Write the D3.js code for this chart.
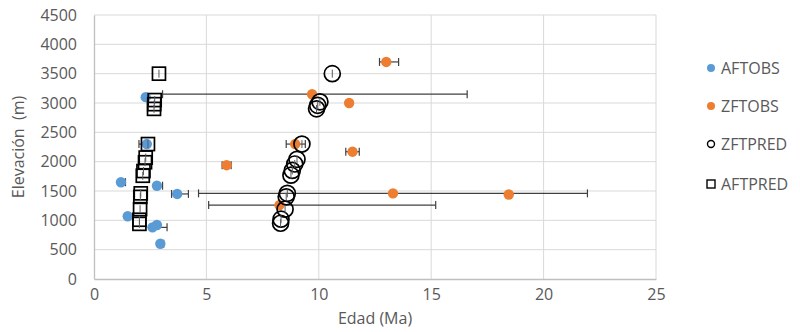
<!DOCTYPE html>
<html>
<head>
<meta charset="utf-8">
<script src="https://cdn.jsdelivr.net/npm/d3@7"></script>
<style>
  body { margin: 0; background: #fff; }
  text { font-family: "Open Sans", "Noto Sans", sans-serif; fill: #595959; }
</style>
</head>
<body>
<div id="chart"></div>
<script>
// AFTOBS (observed apatite fission track ages)
const aftObsAge  = [1.2, 2.3, 2.35, 2.8, 3.7, 1.5, 2.8, 2.6, 2.95];
const aftObsElev = [1650, 3100, 2300, 1590, 1450, 1070, 920, 880, 600];
const aftObsLo   = [1.2, 2.3, 2.0, 2.8, 3.45, 1.5, 2.8, 2.6, 2.95];
const aftObsHi   = [1.4, 2.3, 2.35, 3.05, 4.2, 1.5, 2.8, 3.25, 3.1];

// ZFTOBS (observed zircon fission track ages)
const zftObsAge  = [13.0, 9.7, 11.35, 8.95, 11.5, 5.9, 8.25, 13.3, 18.45];
const zftObsElev = [3700, 3150, 3000, 2300, 2170, 1940, 1260, 1460, 1440];
const zftObsLo   = [12.7, 3.05, 11.35, 8.55, 11.2, 5.7, 5.1, 4.65, 18.45];
const zftObsHi   = [13.55, 16.6, 11.35, 9.4, 11.8, 6.1, 15.2, 21.95, 18.45];

// ZFTPRED (predicted zircon ages)
const zftPredAge  = [10.6, 10.05, 9.95, 9.9, 9.25, 9.03, 8.93, 8.82, 8.76, 8.6, 8.55, 8.5, 8.32, 8.3];
const zftPredElev = [3500, 3020, 2960, 2900, 2300, 2040, 1960, 1850, 1770, 1460, 1400, 1190, 1020, 950];

// AFTPRED (predicted apatite ages)
const aftPredAge  = [2.89, 2.7, 2.68, 2.67, 2.4, 2.3, 2.27, 2.2, 2.17, 2.08, 2.06, 2.05, 2.02, 2.02];
const aftPredElev = [3500, 3050, 2980, 2900, 2300, 2070, 1990, 1840, 1760, 1460, 1400, 1190, 1010, 940];

const xTicks = [0, 5, 10, 15, 20, 25];
const yTicks = [0, 500, 1000, 1500, 2000, 2500, 3000, 3500, 4000, 4500];
const legendNames = ["AFTOBS", "ZFTOBS", "ZFTPRED", "AFTPRED"];

const W = 800, H = 332;
const margin = {top: 15, right: 144, bottom: 53, left: 94};
const blue = "#5b9bd5", orange = "#ed7d31", errColor = "#404040";

const svg = d3.select("#chart").append("svg")
  .attr("width", W).attr("height", H);

const x = d3.scaleLinear().domain([0, 25]).range([margin.left, W - margin.right]);
const y = d3.scaleLinear().domain([0, 4500]).range([H - margin.bottom, margin.top]);

// gridlines
svg.append("g").selectAll("line.h").data(yTicks.slice(1)).enter().append("line")
  .attr("x1", x(0)).attr("x2", x(25))
  .attr("y1", d => y(d)).attr("y2", d => y(d))
  .attr("stroke", "#d9d9d9").attr("stroke-width", 1);
svg.append("g").selectAll("line.v").data(xTicks.slice(1)).enter().append("line")
  .attr("y1", y(0)).attr("y2", y(4500))
  .attr("x1", d => x(d)).attr("x2", d => x(d))
  .attr("stroke", "#d9d9d9").attr("stroke-width", 1);

// axes
const xAxis = svg.append("g").attr("transform", `translate(0,${y(0)})`)
  .call(d3.axisBottom(x).tickValues(xTicks).tickSize(0).tickPadding(10));
const yAxis = svg.append("g").attr("transform", `translate(${x(0)},0)`)
  .call(d3.axisLeft(y).tickValues(yTicks).tickFormat(d3.format("d")).tickSize(0).tickPadding(17));
[xAxis, yAxis].forEach(a => {
  a.select(".domain").attr("stroke", "#bfbfbf").attr("stroke-width", 1.3);
  a.selectAll("text").style("font-size", "16px").style("font-family", "\"Open Sans\", sans-serif").attr("fill", "#595959");
});

// axis titles
svg.append("text").attr("x", x(12.5)).attr("y", 324)
  .attr("text-anchor", "middle").style("font-size", "16px").text("Edad (Ma)");
svg.append("text")
  .attr("transform", `translate(24,${y(2250)}) rotate(-90)`)
  .attr("text-anchor", "middle").style("font-size", "16px")
  .style("white-space", "pre").text("Elevación  (m)");

// error bars
function errorBars(ages, elevs, lo, hi) {
  const g = svg.append("g");
  elevs.forEach((e, i) => {
    if (hi[i] - lo[i] <= 0) return;
    const yy = y(e);
    g.append("line").attr("x1", x(lo[i])).attr("x2", x(hi[i]))
      .attr("y1", yy).attr("y2", yy).attr("stroke", errColor).attr("stroke-width", 1.2);
    [lo[i], hi[i]].forEach(v => {
      if (v === ages[i]) return;
      g.append("line").attr("x1", x(v)).attr("x2", x(v))
        .attr("y1", yy - 4).attr("y2", yy + 4).attr("stroke", errColor).attr("stroke-width", 1.2);
    });
  });
}
errorBars(aftObsAge, aftObsElev, aftObsLo, aftObsHi);
errorBars(zftObsAge, zftObsElev, zftObsLo, zftObsHi);

// markers
svg.append("g").selectAll("circle").data(aftObsAge).enter().append("circle")
  .attr("cx", d => x(d)).attr("cy", (d, i) => y(aftObsElev[i]))
  .attr("r", 5.2).attr("fill", blue);
svg.append("g").selectAll("circle").data(zftObsAge).enter().append("circle")
  .attr("cx", d => x(d)).attr("cy", (d, i) => y(zftObsElev[i]))
  .attr("r", 5.2).attr("fill", orange);
const zp = svg.append("g");
zp.selectAll("circle").data(zftPredAge).enter().append("circle")
  .attr("cx", d => x(d)).attr("cy", (d, i) => y(zftPredElev[i]))
  .attr("r", 8).attr("fill", "none").attr("stroke", "#000").attr("stroke-width", 1.7);
zp.selectAll("line").data(zftPredAge).enter().append("line")
  .attr("x1", d => x(d)).attr("x2", d => x(d))
  .attr("y1", (d, i) => y(zftPredElev[i]) - 4).attr("y2", (d, i) => y(zftPredElev[i]) + 4)
  .attr("stroke", "#595959").attr("stroke-width", 1);
const ap = svg.append("g");
ap.selectAll("rect").data(aftPredAge).enter().append("rect")
  .attr("x", d => x(d) - 6.5).attr("y", (d, i) => y(aftPredElev[i]) - 6.5)
  .attr("width", 13).attr("height", 13)
  .attr("fill", "none").attr("stroke", "#000").attr("stroke-width", 1.7);
ap.selectAll("line").data(aftPredAge).enter().append("line")
  .attr("x1", d => x(d)).attr("x2", d => x(d))
  .attr("y1", (d, i) => y(aftPredElev[i]) - 4).attr("y2", (d, i) => y(aftPredElev[i]) + 4)
  .attr("stroke", "#595959").attr("stroke-width", 1);

// legend
const legY = [68, 106, 144, 184];
const leg = svg.append("g");
legendNames.forEach((name, i) => {
  const cy = legY[i], cx = 711;
  if (i === 0) leg.append("circle").attr("cx", cx).attr("cy", cy).attr("r", 4).attr("fill", blue);
  if (i === 1) leg.append("circle").attr("cx", cx).attr("cy", cy).attr("r", 4).attr("fill", orange);
  if (i === 2) leg.append("circle").attr("cx", cx).attr("cy", cy).attr("r", 3.5)
    .attr("fill", "none").attr("stroke", "#000").attr("stroke-width", 1.4);
  if (i === 3) leg.append("rect").attr("x", cx - 4).attr("y", cy - 4).attr("width", 8).attr("height", 8)
    .attr("fill", "none").attr("stroke", "#000").attr("stroke-width", 1.4);
  leg.append("text").attr("x", 721).attr("y", cy).attr("dy", "0.36em")
    .style("font-size", "16px").text(name);
});
</script>
</body>
</html>
